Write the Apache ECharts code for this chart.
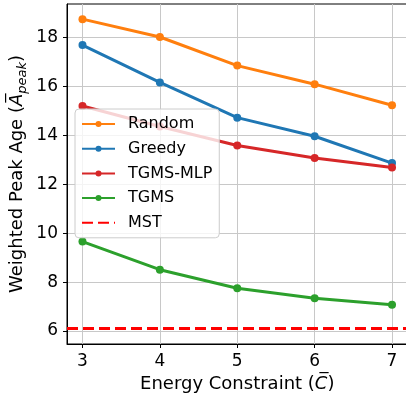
<!DOCTYPE html>
<html>
<head>
<meta charset="utf-8">
<script src="https://cdn.jsdelivr.net/npm/echarts@6/dist/echarts.min.js"></script>
<style>
  html, body { margin: 0; padding: 0; background: #fff; }
  #chart { width: 406px; height: 400px; }
</style>
</head>
<body>
<div id="chart"></div>
<script>
// Energy constraint values on the x axis (also the x tick labels)
const energyBudgets = [3, 4, 5, 6, 7];
// Tick labels on the y axis
const ageTicks = [6, 8, 10, 12, 14, 16, 18];

// Weighted peak age per scheduling method
const randomAge  = [18.76, 18.03, 16.86, 16.10, 15.24];
const greedyAge  = [17.70, 16.17, 14.73, 13.97, 12.87];
const tgmsMlpAge = [15.21, 14.37, 13.59, 13.08, 12.69];
const tgmsAge    = [9.66, 8.51, 7.75, 7.34, 7.08];
const mstAge     = 6.12;

const seriesNames  = ['Random', 'Greedy', 'TGMS-MLP', 'TGMS', 'MST'];
const seriesColors = ['#ff7f0e', '#1f77b4', '#d62728', '#2ca02c', '#ff0000'];

const FONT = 'DejaVu Sans';
const dash = [11, 5];

function pairs(values) {
  return energyBudgets.map((x, i) => [x, values[i]]);
}

function intLabel(v) {
  return Math.abs(v - Math.round(v)) < 1e-6 ? String(Math.round(v)) : '';
}

function curve(name, values, color) {
  return {
    name: name,
    type: 'line',
    data: pairs(values),
    symbol: 'circle',
    symbolSize: 8,
    showSymbol: true,
    lineStyle: { width: 3, color: color },
    itemStyle: { color: color },
    color: color,
    emphasis: { disabled: true },
    animation: false
  };
}

const axisText = { fontSize: 17, color: '#000', fontFamily: FONT };

const option = {
  animation: false,
  grid: {
    left: 67, right: -1.5, top: 4, bottom: 56,
    show: true, borderColor: '#000', borderWidth: 1,
    containLabel: false, outerBoundsMode: 'none'
  },
  xAxis: {
    type: 'value',
    min: 2.8, max: 7.2, splitNumber: 4,
    name: 'Energy Constraint ({i|C\u0305})',
    nameLocation: 'middle',
    nameGap: 31,
    nameTextStyle: {
      fontSize: 18, color: '#000', fontFamily: FONT,
      rich: { i: { fontSize: 18, fontStyle: 'italic', color: '#000', fontFamily: FONT } }
    },
    axisLine: { show: true, onZero: false, lineStyle: { color: '#000', width: 1 } },
    axisTick: { show: true, inside: false, length: 4, customValues: energyBudgets,
                lineStyle: { color: '#000', width: 1 } },
    axisLabel: Object.assign({ margin: 9, customValues: energyBudgets, formatter: intLabel }, axisText),
    splitLine: { show: true, lineStyle: { color: '#c8c8c8', width: 1 } }
  },
  yAxis: {
    type: 'value',
    min: 5.47, max: 19.38, splitNumber: 7,
    name: 'Weighted Peak Age ({i|A\u0305}{s|peak})',
    nameLocation: 'middle',
    nameGap: 38,
    nameMoveOverlap: false,
    nameRotate: 90,
    nameTextStyle: {
      fontSize: 18, color: '#000', fontFamily: FONT,
      rich: {
        i: { fontSize: 18, fontStyle: 'italic', color: '#000', fontFamily: FONT },
        s: { fontSize: 13, fontStyle: 'italic', color: '#000', fontFamily: FONT,
             lineHeight: 24, verticalAlign: 'bottom' }
      }
    },
    axisLine: { show: true, onZero: false, lineStyle: { color: '#000', width: 1 } },
    axisTick: { show: true, inside: false, length: 4, customValues: ageTicks,
                lineStyle: { color: '#000', width: 1 } },
    axisLabel: Object.assign({ margin: 9, customValues: ageTicks, formatter: intLabel }, axisText),
    splitLine: { show: true, lineStyle: { color: '#c8c8c8', width: 1 } }
  },
  legend: {
    orient: 'vertical',
    left: 75, top: 109,
    itemWidth: 33, itemHeight: 7.5, itemGap: 8.7,
    padding: [7, 7, 7, 6],
    backgroundColor: 'rgba(255,255,255,0.8)',
    borderColor: '#cccccc', borderWidth: 1, borderRadius: 4,
    textStyle: { fontSize: 16, lineHeight: 16, color: '#000', fontFamily: FONT, padding: [0, 0, 0, 8] },
    data: [
      seriesNames[0], seriesNames[1], seriesNames[2], seriesNames[3],
      { name: seriesNames[4], itemStyle: { opacity: 0 } }
    ],
    selectedMode: false
  },
  series: [
    curve(seriesNames[0], randomAge, seriesColors[0]),
    curve(seriesNames[1], greedyAge, seriesColors[1]),
    curve(seriesNames[2], tgmsMlpAge, seriesColors[2]),
    curve(seriesNames[3], tgmsAge, seriesColors[3]),
    {
      name: seriesNames[4],
      type: 'line',
      data: [],
      symbol: 'none',
      color: seriesColors[4],
      lineStyle: { width: 3, type: dash, color: seriesColors[4] },
      itemStyle: { color: seriesColors[4] },
      markLine: {
        silent: true,
        animation: false,
        symbol: ['none', 'none'],
        label: { show: false },
        lineStyle: { width: 3, type: dash, color: seriesColors[4] },
        data: [{ yAxis: mstAge }]
      }
    }
  ]
};

const chart = echarts.init(document.getElementById('chart'), null, { renderer: 'canvas' });
chart.setOption(option);
</script>
</body>
</html>
